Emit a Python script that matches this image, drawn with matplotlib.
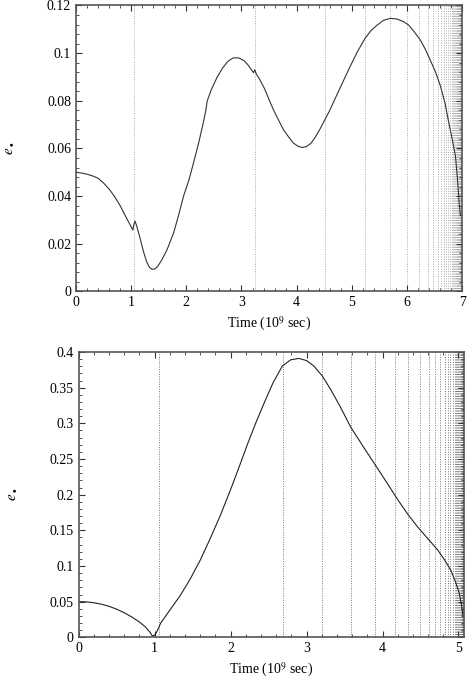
import matplotlib
matplotlib.use("Agg")
import matplotlib.pyplot as plt
from matplotlib.ticker import MultipleLocator

plt.rcParams['font.family'] = ['Liberation Serif', 'DejaVu Serif']
plt.rcParams['mathtext.fontset'] = 'stix'
plt.rcParams['font.size'] = 10

# upper panel
t_top = [0, 0.1, 0.2, 0.3, 0.4, 0.5, 0.6, 0.7, 0.8, 0.9, 0.98, 1.03, 1.05, 1.07, 1.10,
         1.16, 1.22, 1.28, 1.33, 1.38, 1.43, 1.48, 1.55, 1.65, 1.77, 1.86, 1.95, 2.05,
         2.13, 2.22, 2.30, 2.35, 2.38, 2.45, 2.55, 2.65, 2.75, 2.85, 2.95, 3.05, 3.12,
         3.18, 3.22, 3.24, 3.27, 3.33, 3.42, 3.50, 3.58, 3.67, 3.76, 3.85, 3.94, 4.02,
         4.10, 4.18, 4.26, 4.34, 4.42, 4.50, 4.60, 4.73, 4.85, 4.97, 5.10, 5.24, 5.35,
         5.46, 5.58, 5.70, 5.82, 5.93, 6.03, 6.13, 6.24, 6.33, 6.42, 6.52, 6.61, 6.69,
         6.76, 6.82, 6.88, 6.92, 6.95, 6.97]
e_top = [0.050, 0.0497, 0.0492, 0.0485, 0.0475, 0.0455, 0.043, 0.0398, 0.036, 0.0315,
         0.028, 0.0258, 0.0282, 0.0295, 0.0275, 0.0225, 0.017, 0.0125, 0.0102, 0.0093,
         0.0095, 0.0105, 0.013, 0.0175, 0.0246, 0.032, 0.040, 0.047, 0.0539, 0.062,
         0.070, 0.0755, 0.080, 0.0845, 0.0895, 0.0935, 0.0965, 0.098, 0.098, 0.0968,
         0.095, 0.093, 0.0918, 0.093, 0.0912, 0.089, 0.085, 0.0805, 0.0762, 0.072,
         0.0679, 0.065, 0.0623, 0.061, 0.0604, 0.0608, 0.0622, 0.0648, 0.068, 0.0715,
         0.076, 0.0825, 0.0885, 0.0944, 0.1005, 0.1062, 0.1095, 0.1118, 0.1138, 0.1146,
         0.1143, 0.1133, 0.1118, 0.109, 0.1056, 0.1018, 0.0972, 0.092, 0.086, 0.079,
         0.0707, 0.064, 0.0567, 0.046, 0.036, 0.032]
lines_top = [1.05, 3.24, 4.51, 5.24, 5.70, 6.01, 6.22, 6.38, 6.48, 6.56, 6.62, 6.67,
             6.71, 6.75, 6.78, 6.81, 6.83, 6.85, 6.87, 6.885, 6.90, 6.91, 6.92, 6.93,
             6.94, 6.948, 6.955, 6.96, 6.965, 6.97, 6.974, 6.978, 6.982, 6.985, 6.988,
             6.99, 6.992, 6.994]

# lower panel
t_bot = [0, 0.1, 0.2, 0.3, 0.4, 0.5, 0.6, 0.7, 0.8, 0.88, 0.94, 0.97, 1.0, 1.03, 1.06,
         1.08, 1.2, 1.34, 1.47, 1.60, 1.73, 1.87, 2.0, 2.11, 2.22, 2.33, 2.44, 2.56,
         2.68, 2.79, 2.90, 3.0, 3.10, 3.21, 3.32, 3.45, 3.58, 3.73, 3.89, 4.05, 4.20,
         4.33, 4.46, 4.60, 4.73, 4.82, 4.90, 4.96, 5.01, 5.04, 5.06]
e_bot = [0.050, 0.0497, 0.0485, 0.0465, 0.0435, 0.0395, 0.0345, 0.0285, 0.0215,
         0.0145, 0.007, 0.002, 0.003, 0.008, 0.015, 0.020, 0.038, 0.059, 0.082, 0.108,
         0.138, 0.172, 0.207, 0.238, 0.270, 0.300, 0.328, 0.357, 0.380, 0.389, 0.391,
         0.388, 0.380, 0.366, 0.347, 0.322, 0.295, 0.270, 0.244, 0.218, 0.193, 0.173,
         0.155, 0.138, 0.122, 0.108, 0.094, 0.078, 0.062, 0.045, 0.030]
lines_bot = [1.06, 2.69, 3.21, 3.59, 3.90, 4.16, 4.34, 4.49, 4.61, 4.69, 4.76, 4.82,
             4.86, 4.895, 4.925, 4.95, 4.97, 4.985, 5.0, 5.012, 5.022, 5.03, 5.037,
             5.043, 5.048, 5.052, 5.056, 5.059, 5.062, 5.064, 5.066]

fig = plt.figure(figsize=(4.68, 6.82), dpi=100)
ax1 = fig.add_axes([0.1624, 0.5726, 0.825, 0.4194])
ax2 = fig.add_axes([0.168, 0.0655, 0.823, 0.4184])


def style(ax, xmax, ymax, ymaj, ymin):
    ax.set_xlim(0, xmax)
    ax.set_ylim(0, ymax)
    ax.xaxis.set_major_locator(MultipleLocator(1))
    ax.xaxis.set_minor_locator(MultipleLocator(0.2))
    ax.yaxis.set_major_locator(MultipleLocator(ymaj))
    ax.yaxis.set_minor_locator(MultipleLocator(ymin))
    ax.tick_params(which='both', direction='in', top=True, right=True, color='#333')
    ax.tick_params(which='major', length=4, width=0.8)
    ax.tick_params(which='minor', length=2, width=0.6)
    for s in ax.spines.values():
        s.set_color('#555')
        s.set_linewidth(1.2)
    ax.set_xlabel('Time (10$^9$ sec)')
    ax.set_ylabel(r'$e_\bullet$', fontsize=11, labelpad=22)


for x in lines_top:
    ax1.axvline(x, color='#aaa', ls=(0, (1, 1.5)), lw=0.7, zorder=1)
ax1.plot(t_top, e_top, color='#333', lw=0.8, zorder=2)
style(ax1, 7, 0.12, 0.02, 0.004)
ax1.set_yticks([0, 0.02, 0.04, 0.06, 0.08, 0.1, 0.12])
ax1.set_yticklabels(['0', '0.02', '0.04', '0.06', '0.08', '0.1', '0.12'])

for x in lines_bot:
    ax2.axvline(x, color='#777', ls=(0, (1, 1.5)), lw=0.7, zorder=1)
ax2.plot(t_bot, e_bot, color='#222', lw=0.8, zorder=2)
style(ax2, 5.07, 0.4, 0.05, 0.01)
ax2.set_yticks([0, 0.05, 0.1, 0.15, 0.2, 0.25, 0.3, 0.35, 0.4])
ax2.set_yticklabels(['0', '0.05', '0.1', '0.15', '0.2', '0.25', '0.3', '0.35', '0.4'])

fig.savefig('out.png', dpi=100)
